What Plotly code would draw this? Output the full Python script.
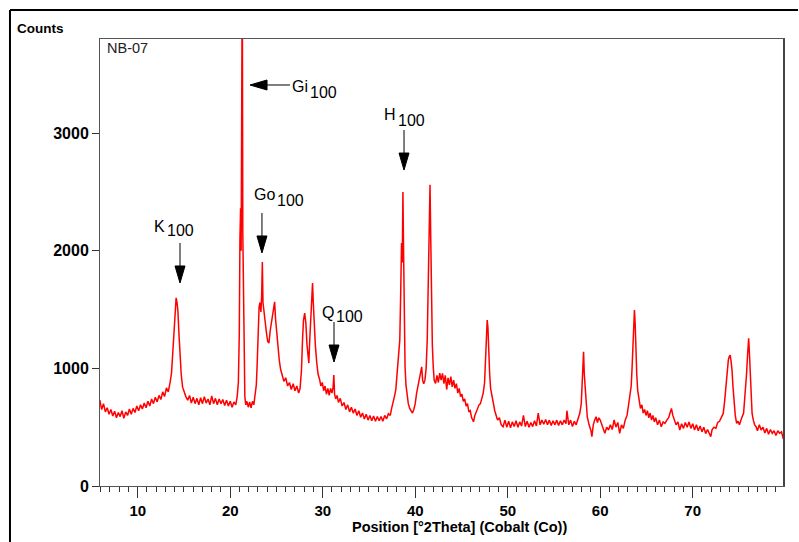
import plotly.graph_objects as go

# ---- diffraction pattern (2theta in degrees, counts) ----
seg_low = [(5.9,730),(6.1,650),(6.3,700),(6.5,630),(6.7,665),(6.9,610),(7.1,650),(7.3,595),(7.5,635),(7.7,580),
           (7.9,625),(8.1,590),(8.3,640),(8.5,575),(8.7,630),(8.9,600),(9.1,655),(9.3,610),(9.5,660),(9.7,625),
           (9.9,680),(10.1,640),(10.3,690),(10.5,655),(10.7,705),(10.9,665),(11.1,720),(11.3,680),(11.5,740),(11.7,700),
           (11.9,755),(12.1,715),(12.3,770),(12.5,735),(12.7,800),(12.9,760),(13.1,835),(13.3,800),(13.5,880),
           (13.65,960),(13.8,1150),(13.95,1400),(14.05,1540),(14.15,1600),(14.25,1560),(14.35,1480),(14.45,1300),
           (14.55,1120),(14.7,950),(14.85,840),(15.0,800)]

seg_gibbsite = [(15.2,760),(15.4,730),(15.6,770),(15.8,705),(16.0,755),(16.2,700),(16.4,745),(16.6,690),(16.8,750),
                (17.0,700),(17.2,760),(17.4,705),(17.6,740),(17.8,690),(18.0,765),(18.2,700),(18.4,745),(18.6,690),
                (18.8,740),(19.0,700),(19.2,735),(19.4,685),(19.6,730),(19.8,680),(20.0,720),(20.2,670),(20.4,715),
                (20.6,690),(20.75,760),(20.88,880),(20.98,1300),(21.05,2100),(21.12,2360),(21.18,2000),(21.24,2600),
                (21.3,4400),(21.36,2150),(21.42,1850),(21.5,1150),(21.58,760),(21.68,690),(21.8,720),(21.95,670),
                (22.1,715),(22.25,665),(22.4,720),(22.55,690),(22.7,780),(22.82,860)]

seg_goethite = [(22.92,1050),(23.02,1380),(23.12,1520),(23.22,1560),(23.32,1480),(23.4,1620),(23.47,1905),(23.54,1560),
                (23.65,1470),(23.78,1400),(23.92,1300),(24.05,1230),(24.18,1215),(24.32,1320),(24.46,1400),(24.6,1470),
                (24.72,1520),(24.8,1566),(24.9,1420),(25.02,1300),(25.15,1180),(25.3,1070),(25.45,990),(25.6,950),
                (25.8,890),(26.0,920),(26.2,850),(26.4,880),(26.6,820),(26.8,870),(27.0,810),(27.2,850),(27.4,790),
                (27.55,830),(27.7,980),(27.82,1250),(27.92,1410),(28.05,1470),(28.18,1380),(28.3,1200),(28.42,1060),
                (28.5,1045),(28.6,1250),(28.72,1480),(28.82,1600),(28.9,1725),(28.98,1560),(29.08,1380),(29.2,1200),
                (29.35,1050),(29.5,950),(29.65,910),(29.8,850),(29.95,880),(30.1,810),(30.25,850),(30.4,780),
                (30.55,830),(30.7,770),(30.85,830),(31.0,790),(31.12,840),(31.2,943),(31.28,780),(31.4,740),(31.55,770)]

seg_trough = [(31.7,710),(31.9,745),(32.1,680),(32.3,710),(32.5,650),(32.7,690),(32.9,630),(33.1,670),(33.3,620),
              (33.5,655),(33.7,600),(33.9,640),(34.1,585),(34.3,620),(34.5,570),(34.7,610),(34.9,560),(35.1,600),
              (35.3,555),(35.5,595),(35.7,550),(35.9,590),(36.1,555),(36.3,590),(36.5,550),(36.7,600),(36.9,570),
              (37.1,615),(37.3,600)]

seg_hematite = [(37.45,660),(37.6,700),(37.75,760),(37.9,820),(38.05,950),(38.2,1100),(38.33,1240),(38.43,1640),
                (38.52,2065),(38.6,1900),(38.67,2500),(38.74,2000),(38.8,1523),(38.9,1013),(39.0,860),(39.12,760),
                (39.25,700),(39.4,660),(39.55,640),(39.7,620),(39.85,650),(40.0,700),(40.15,790),(40.3,850),
                (40.45,900),(40.6,980),(40.7,1013),(40.8,900),(40.92,870),(41.05,900),(41.18,1000),(41.3,1250),
                (41.42,1693),(41.52,2200),(41.6,2560),(41.68,2100),(41.75,1693),(41.85,1200),(41.95,1013),(42.05,900),
                (42.2,872),(42.35,940),(42.5,880),(42.65,960),(42.8,900),(42.95,957),(43.1,870),(43.25,940),
                (43.4,820),(43.55,920),(43.7,860),(43.85,930),(44.0,843),(44.15,900),(44.3,830),(44.45,870),
                (44.6,790),(44.75,830),(44.9,760),(45.05,780),(45.2,720),(45.35,740),(45.5,680),(45.65,700),
                (45.8,630),(45.95,640),(46.1,580),(46.3,546),(46.45,600),(46.6,630),(46.75,650),(46.9,690),
                (47.05,700),(47.2,740),(47.35,790),(47.5,880),(47.6,1050),(47.7,1240),(47.78,1410),(47.86,1350),
                (47.95,1100),(48.05,950),(48.15,830),(48.3,760),(48.45,703),(48.6,640),(48.75,600),(48.9,560)]

seg_mid = [(49.1,580),(49.3,520),(49.5,504),(49.7,560),(49.9,500),(50.1,550),(50.3,495),(50.5,545),(50.7,505),
           (50.9,555),(51.1,500),(51.3,545),(51.5,510),(51.7,600),(51.9,505),(52.1,550),(52.3,500),(52.5,540),
           (52.7,505),(52.9,555),(53.1,510),(53.3,620),(53.5,520),(53.7,560),(53.9,525),(54.1,565),(54.3,520),
           (54.5,560),(54.7,515),(54.9,555),(55.1,520),(55.3,560),(55.5,515),(55.7,555),(55.9,520),(56.1,560),
           (56.3,530),(56.4,640),(56.6,520),(56.8,560),(57.0,505),(57.2,550),(57.4,520),(57.6,570),(57.8,620)]

seg_high = [(57.95,700),(58.05,872),(58.12,1000),(58.2,1141),(58.28,950),(58.36,843),(58.45,700),(58.6,589),
            (58.8,520),(59.0,470),(59.1,419),(59.25,520),(59.4,560),(59.55,589),(59.7,540),(59.85,580),(60.0,561),
            (60.2,520),(60.4,470),(60.5,448),(60.7,500),(60.9,476),(61.1,520),(61.3,480),(61.5,561),(61.7,500),
            (61.9,540),(62.1,448),(62.3,520),(62.5,490),(62.7,560),(62.9,600),(63.05,680),(63.2,750),(63.35,850),
            (63.45,1013),(63.55,1250),(63.62,1400),(63.7,1495),(63.78,1380),(63.85,1155),(63.95,950),(64.05,815),
            (64.2,720),(64.35,660),(64.5,690),(64.65,620),(64.8,650),(64.95,600),(65.1,640),(65.25,580),(65.4,620),
            (65.55,561),(65.7,600),(65.85,545),(66.0,580),(66.2,520),(66.4,560),(66.6,504),(66.8,545),(67.0,533),
            (67.2,560),(67.4,580),(67.55,620),(67.7,660),(67.85,600),(68.0,561),(68.2,520),(68.4,545),(68.6,476),
            (68.8,530),(69.0,490),(69.2,540),(69.4,500),(69.6,545),(69.8,490),(70.0,530),(70.2,476),(70.4,520),
            (70.6,470),(70.8,510),(71.0,460),(71.2,500),(71.4,445),(71.6,480),(71.8,440),(71.95,419),(72.1,480),
            (72.3,500),(72.5,490),(72.7,540),(72.9,550),(73.1,580),(73.3,617),(73.45,720),(73.6,872),(73.75,1000),
            (73.85,1070),(73.95,1100),(74.05,1113),(74.15,1060),(74.25,985),(74.35,850),(74.45,731),(74.6,600),
            (74.75,533),(74.9,550),(75.05,520),(75.2,560),(75.35,590),(75.5,617),(75.62,720),(75.72,815),
            (75.82,950),(75.92,1098),(76.0,1200),(76.05,1255),(76.12,1150),(76.2,957),(76.3,800),(76.42,617),
            (76.55,560),(76.7,520),(76.85,504),(77.0,470),(77.2,520),(77.4,476),(77.6,500),(77.8,450),(78.0,490),
            (78.2,440),(78.4,480),(78.6,448),(78.8,470),(79.0,430),(79.2,470),(79.4,448),(79.6,460),(79.8,400),
            (79.9,430)]

# ---- peak labels (mineral, arrow tip position, arrow direction, label position) ----
peak_names = ["Gi", "K", "Go", "Q", "H"]
peak_sub = "100"
tip_x = [22.14, 14.57, 23.43, 31.22, 38.79]
tip_y = [3409, 1726, 1981, 1054, 2686]
arrow_dir = ["left", "down", "down", "down", "down"]
label_x = [28.52, 13.06, 24.95, 31.38, 37.99]
label_y = [3392, 2210, 2474, 1475, 3154]
sub_y = [3341, 2168, 2427, 1441, 3107]

x_ticks = [10, 20, 30, 40, 50, 60, 70]
y_ticks = [0, 1000, 2000, 3000]
x_range = [5.92, 79.87]
y_range = [0, 3800]

pattern = seg_low + seg_gibbsite + seg_goethite + seg_trough + seg_hematite + seg_mid + seg_high
two_theta = [p[0] for p in pattern]
counts = [p[1] for p in pattern]

fig = go.Figure()
fig.add_trace(go.Scatter(x=two_theta, y=counts, mode="lines",
                         line=dict(color="#ff0000", width=1.5), hoverinfo="skip"))

shapes = []
annotations = []
lbl_font = dict(family="Liberation Sans, Arial, sans-serif", size=16, color="black")
for name, tx, ty, d, lx, ly, sy in zip(peak_names, tip_x, tip_y, arrow_dir, label_x, label_y, sub_y):
    if d == "down":
        tri = "M0,0 L-5,17 L5,17 Z"
        lx0, ly0, lx1, ly1 = 0, 17, 0, 40
    else:
        tri = "M0,0 L17,5 L17,-5 Z"
        lx0, ly0, lx1, ly1 = 17, 0, 40, 0
    shapes.append(dict(type="path", xref="x", yref="y", xsizemode="pixel", ysizemode="pixel",
                       xanchor=tx, yanchor=ty, path=tri, fillcolor="black", line=dict(color="black", width=1)))
    shapes.append(dict(type="line", xref="x", yref="y", xsizemode="pixel", ysizemode="pixel",
                       xanchor=tx, yanchor=ty, x0=lx0, y0=ly0, x1=lx1, y1=ly1,
                       line=dict(color="black", width=1)))
    annotations.append(dict(x=lx, y=ly, xref="x", yref="y", text=name, showarrow=False,
                            xanchor="right", yanchor="middle", font=lbl_font, borderpad=0))
    annotations.append(dict(x=lx, y=sy, xref="x", yref="y", text=peak_sub, showarrow=False,
                            xanchor="left", yanchor="middle", font=lbl_font, borderpad=0))

# outer frame (top and left edges visible in the reference)
shapes.append(dict(type="line", xref="paper", yref="paper", x0=-0.1316, y0=1.0649, x1=1.0205, y1=1.0649,
                   line=dict(color="black", width=2)))
shapes.append(dict(type="line", xref="paper", yref="paper", x0=-0.1316, y0=1.0649, x1=-0.1316, y1=-0.13,
                   line=dict(color="black", width=2)))
# right border of the plot area (heavier)
shapes.append(dict(type="line", xref="paper", yref="paper", x0=1, y0=0, x1=1, y1=1,
                   line=dict(color="#444444", width=2)))

xtick_font = dict(family="Liberation Sans, Arial, sans-serif", size=15, color="black", weight="bold")
ytick_font = dict(family="Liberation Sans, Arial, sans-serif", size=16, color="black", weight="bold")
annotations.append(dict(x=-0.1243, y=1.0224, xref="paper", yref="paper", text="Counts", showarrow=False,
                        xanchor="left", yanchor="middle",
                        font=dict(family="Liberation Sans, Arial", size=13.5,
                                  color="black", weight="bold")))
annotations.append(dict(x=0.526, y=-0.092, xref="paper", yref="paper",
                        text="Position [°2Theta] (Cobalt (Co))", showarrow=False,
                        xanchor="center", yanchor="middle",
                        font=dict(family="Liberation Sans, Arial", size=14.5,
                                  color="black", weight="bold")))
annotations.append(dict(x=0.0073, y=0.980, xref="paper", yref="paper", text="NB-07", showarrow=False,
                        xanchor="left", yanchor="middle",
                        font=dict(family="Liberation Sans, Arial", size=14.5, color="#222222")))

fig.update_layout(
    width=799, height=542,
    margin=dict(l=100, r=15, t=39, b=56),
    paper_bgcolor="white", plot_bgcolor="white",
    showlegend=False,
    shapes=shapes, annotations=annotations,
    xaxis=dict(range=x_range, tickmode="array", tickvals=x_ticks, ticktext=[str(v) for v in x_ticks],
               ticks="outside", ticklen=11, tickwidth=1, tickcolor="#333333",
               showline=True, linecolor="#555555", linewidth=1, mirror=True,
               showgrid=False, zeroline=False, tickfont=xtick_font, ticklabelstandoff=0,
               minor=dict(dtick=1, tick0=0, ticks="outside", ticklen=5, tickcolor="#333333",
                          tickwidth=1, showgrid=False)),
    yaxis=dict(range=y_range, tickmode="array", tickvals=y_ticks, ticktext=[str(v) for v in y_ticks],
               ticks="outside", ticklen=7, tickwidth=1, tickcolor="#333333",
               showline=True, linecolor="#555555", linewidth=1, mirror=True,
               showgrid=False, zeroline=False, tickfont=ytick_font),
)

# remove the default page margin so the 799x542 figure fills the window exactly
fig.write_html("out.html",
               config={"displayModeBar": False, "staticPlot": True},
               post_script="document.documentElement.style.overflow='hidden';"
                           "document.body.style.margin='0';"
                           "document.body.style.overflow='hidden';")
